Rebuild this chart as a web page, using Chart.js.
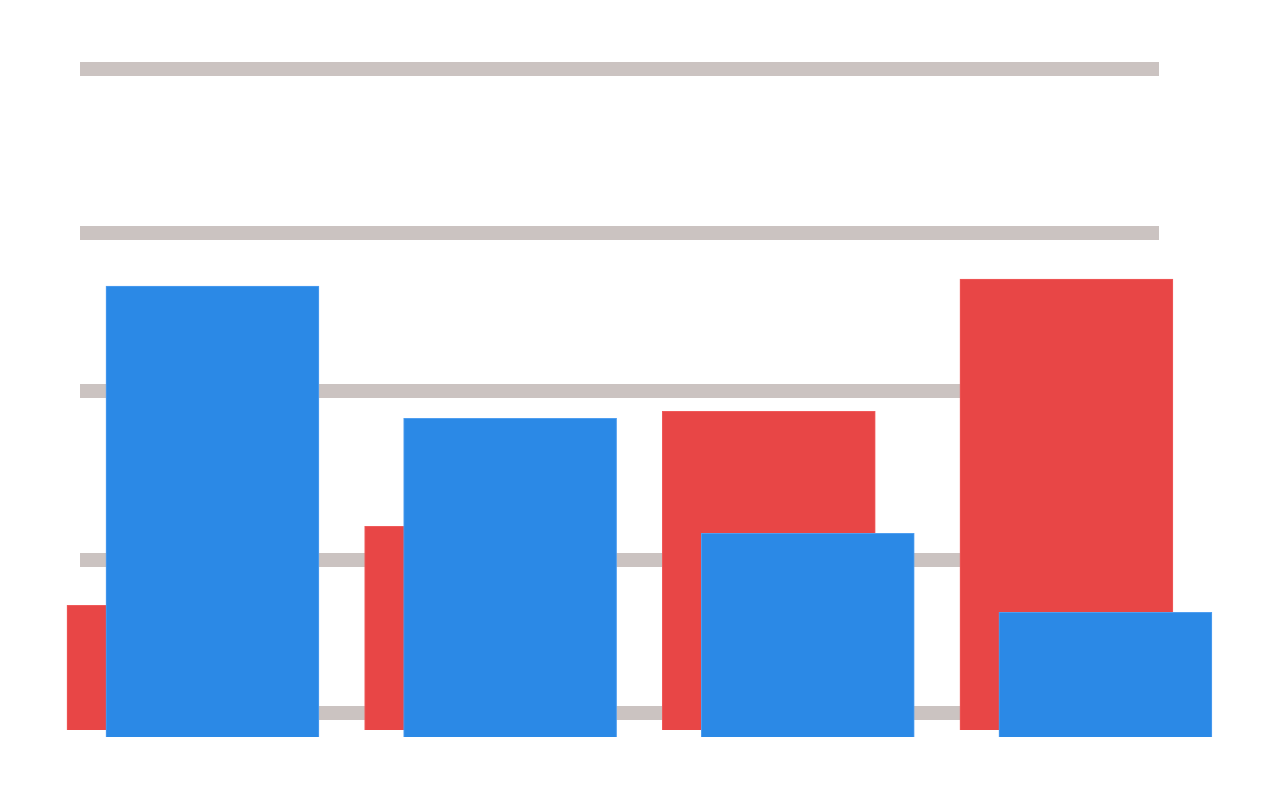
<!DOCTYPE html>
<html>
<head>
    <meta charset="UTF-8">
    <title>Bars</title>
    <style>
        body { margin: 0; padding: 0; background: #ffffff; }
        #chart-container { width: 1280px; height: 810px; }
    </style>
    <script src="https://cdn.jsdelivr.net/npm/chart.js"></script>
</head>
<body>
    <div id="chart-container">
        <canvas id="myChart"></canvas>
    </div>

    <script>
        // categories (x positions) and the two series
        const categories = [0, 1, 2, 3];
        const redValues = [15.5, 25.3, 39.6, 56.0];
        const blueValues = [56.0, 39.6, 25.3, 15.5];
        // grid lines (no labels shown)
        const gridTicks = [0, 19, 40, 59.6, 80];

        const toPoints = vals => categories.map((c, i) => ({ x: c, y: vals[i] }));

        const ctx = document.getElementById('myChart').getContext('2d');
        const myChart = new Chart(ctx, {
            type: 'bar',
            data: {
                datasets: [{
                    label: 'red',
                    data: toPoints(redValues),
                    backgroundColor: '#e84646',
                    borderColor: '#f05a5a',
                    borderWidth: 1,
                    barThickness: 213,
                    grouped: false,
                    base: 0,
                    order: 2,
                    xAxisID: 'x',
                    yAxisID: 'yRed',
                    clip: false
                }, {
                    label: 'blue',
                    data: toPoints(blueValues),
                    backgroundColor: '#2b89e6',
                    borderColor: '#4f9ef0',
                    borderWidth: 1,
                    barThickness: 213,
                    grouped: false,
                    base: 0,
                    order: 1,
                    xAxisID: 'x2',
                    yAxisID: 'yBlue',
                    clip: false
                }]
            },
            options: {
                responsive: true,
                maintainAspectRatio: false,
                animation: false,
                layout: { padding: { left: 80, right: 121, top: 69, bottom: 97 } },
                plugins: { legend: { display: false }, tooltip: { enabled: false } },
                scales: {
                    y: {
                        type: 'linear',
                        min: gridTicks[0],
                        max: gridTicks[gridTicks.length - 1],
                        afterBuildTicks: axis => { axis.ticks = gridTicks.map(v => ({ value: v })); },
                        ticks: { display: false },
                        border: { display: false },
                        grid: { color: '#cbc3c1', lineWidth: 14, drawTicks: false }
                    },
                    yRed: { type: 'linear', display: false, min: 2.11, max: 82.11 },
                    yBlue: { type: 'linear', display: false, min: 2.98, max: 82.98 },
                    x: { type: 'linear', display: false, offset: false, min: -0.314, max: 3.311 },
                    x2: { type: 'linear', display: false, offset: false, min: -0.445, max: 3.180 }
                }
            }
        });
    </script>
</body>
</html>
